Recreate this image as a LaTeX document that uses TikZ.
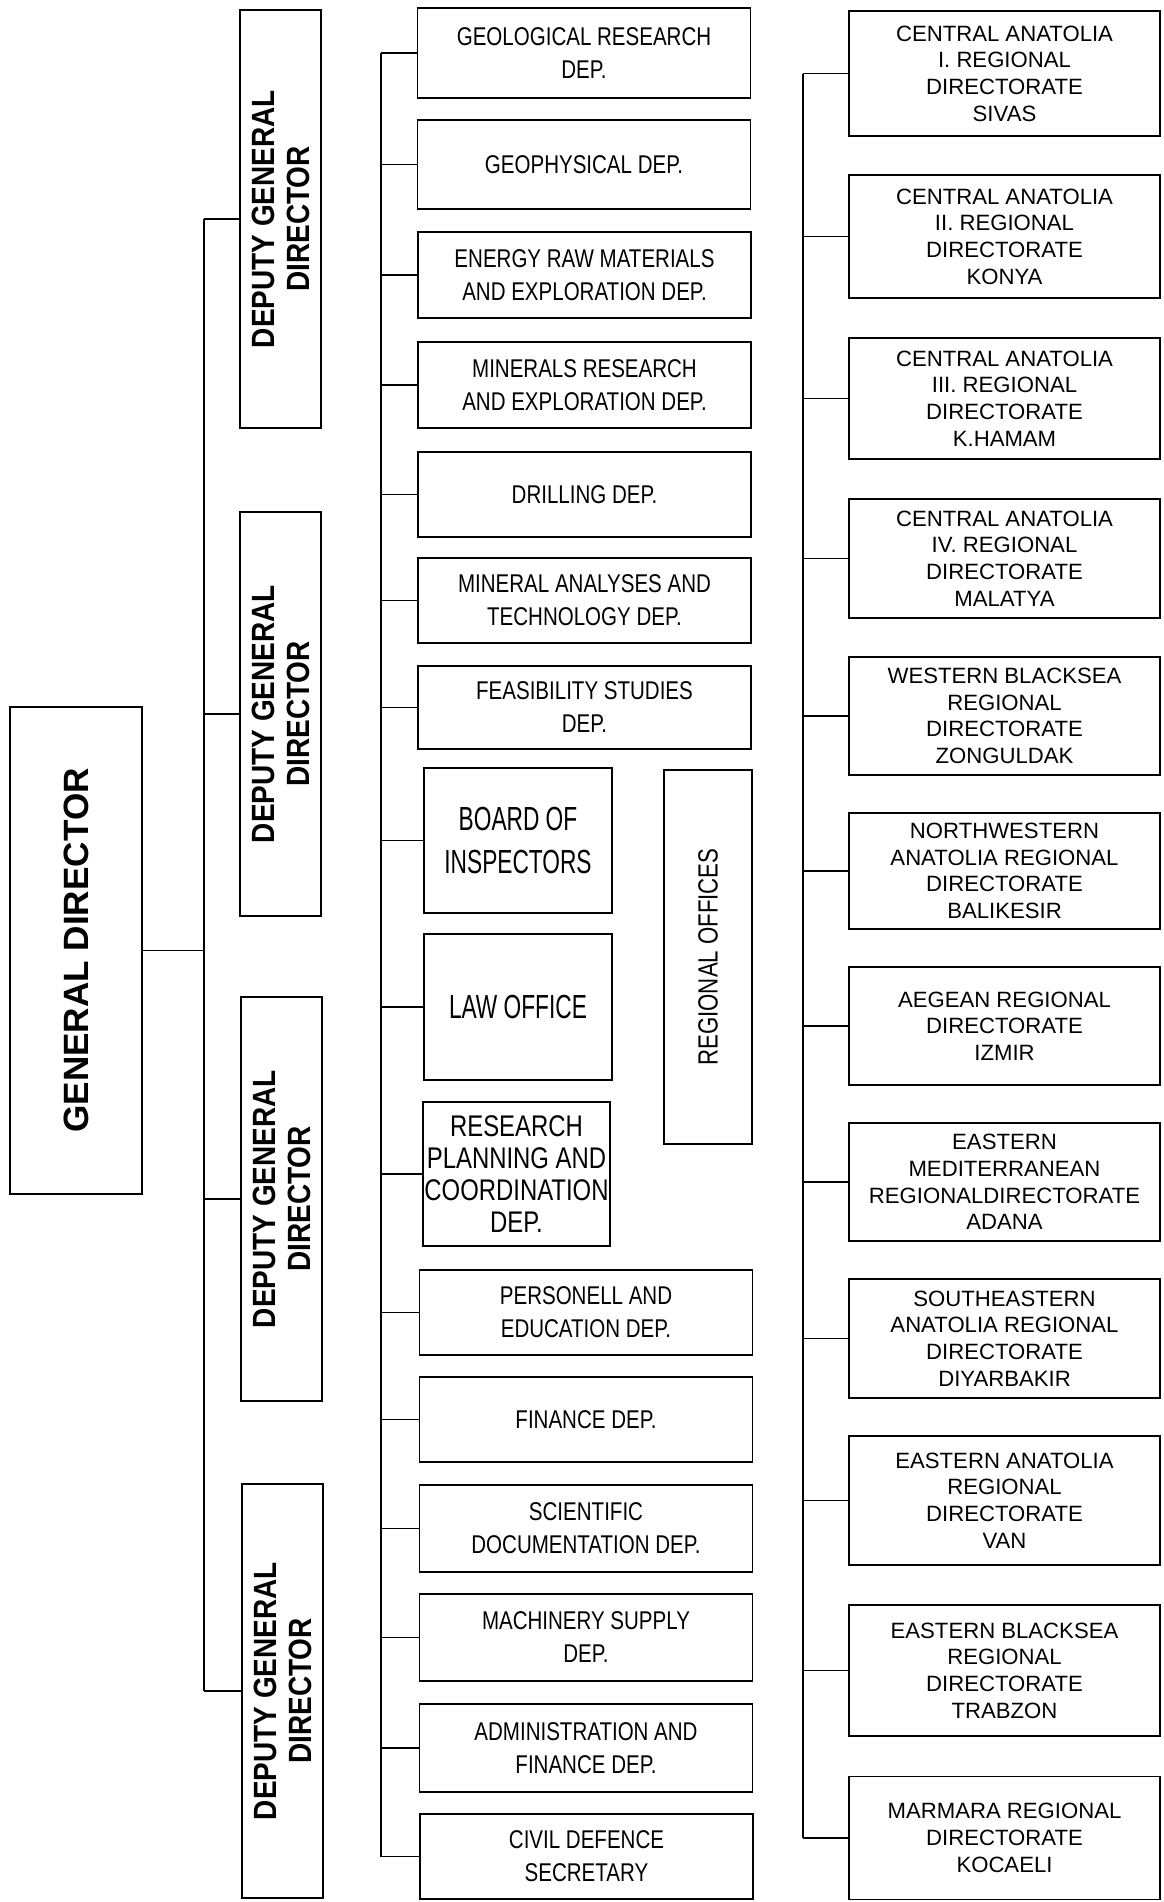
\documentclass[tikz,border=0pt]{standalone}
\usepackage{fontspec}
\setmainfont{Liberation Sans}
\newfontfamily\deptfont[FakeStretch=0.8]{Liberation Sans}
\newfontfamily\officefont[FakeStretch=0.68]{Liberation Sans}
\newfontfamily\headfont[FakeStretch=0.87]{Liberation Sans}
\usetikzlibrary{positioning,calc}

\tikzset{
  orgline/.style={line width=0.8pt, black},
  gdbox/.style={draw, line width=0.8pt, rotate=90, inner sep=0pt, minimum width=9.74cm, minimum height=2.64cm, font=\bfseries\fontsize{20}{24}\selectfont},
  dgdbox/.style={draw, line width=0.8pt, rotate=90, inner sep=0pt, minimum height=1.62cm, align=center, font=\headfont\bfseries\fontsize{18.3}{19.9}\selectfont},
  deptbox/.style={draw, line width=0.8pt, inner sep=0pt, minimum width=6.66cm, minimum height=1.72cm, align=center, font=\deptfont\fontsize{14.6}{18.8}\selectfont},
  officebox/.style={draw, line width=0.8pt, inner sep=0pt, minimum width=3.76cm, minimum height=2.9cm, align=center, font=\officefont\fontsize{19}{25}\selectfont},
  regbox/.style={draw, line width=0.8pt, inner sep=0pt, minimum width=6.22cm, minimum height=2.4cm, align=center, font=\fontsize{12.6}{15.2}\selectfont}
}

\begin{document}
\begin{tikzpicture}
  \useasboundingbox (0,0) rectangle (23.26,-38.04);

  %--- Bus lines ---
  \coordinate (gbus) at (4.08,0);
  \coordinate (dbus) at (7.62,0);
  \coordinate (rbus) at (16.06,0);

  %--- General director and deputies ---
  \node[gdbox] (gd) at (1.52,-19.01) {GENERAL DIRECTOR};

  \node[dgdbox, minimum width=8.36cm] (dgd1) at (5.61,-4.38) {DEPUTY GENERAL\\DIRECTOR};
  \node[dgdbox, minimum width=8.08cm] (dgd2) at (5.61,-14.28) {DEPUTY GENERAL\\DIRECTOR};
  \node[dgdbox, minimum width=8.08cm] (dgd3) at (5.63,-23.98) {DEPUTY GENERAL\\DIRECTOR};
  \node[dgdbox, minimum width=8.28cm] (dgd4) at (5.65,-33.82) {DEPUTY GENERAL\\DIRECTOR};

  \draw[orgline] (gd.south) -- (gd.south -| gbus);
  \draw[orgline] (dgd1.north -| gbus) -- (dgd4.north -| gbus);
  \foreach \k in {1,...,4}
    \draw[orgline] (dgd\k.north -| gbus) -- (dgd\k.north);

  %--- Departments ---
  \node[deptbox, minimum height=1.80cm] (d1) at (11.68,-1.06) {GEOLOGICAL RESEARCH\\DEP.};
  \node[deptbox, minimum height=1.78cm] (d2) at (11.68,-3.29) {GEOPHYSICAL DEP.};
  \node[deptbox] (d3) at (11.69,-5.50) {ENERGY RAW MATERIALS\\AND EXPLORATION DEP.};
  \node[deptbox] (d4) at (11.69,-7.70) {MINERALS RESEARCH\\AND EXPLORATION DEP.};
  \node[deptbox, minimum height=1.70cm] (d5) at (11.69,-9.89) {DRILLING DEP.};
  \node[deptbox, minimum height=1.70cm] (d6) at (11.69,-12.01) {MINERAL ANALYSES AND\\TECHNOLOGY DEP.};
  \node[deptbox, minimum height=1.66cm] (d7) at (11.69,-14.15) {FEASIBILITY STUDIES\\DEP.};
  \node[officebox] (d8) at (10.36,-16.81) {BOARD OF\\INSPECTORS};
  \node[officebox, minimum height=2.92cm] (d9) at (10.36,-20.14) {LAW OFFICE};
  \node[officebox, minimum width=3.74cm, minimum height=2.88cm, font=\deptfont\fontsize{17}{18.2}\selectfont] (d10) at (10.33,-23.48) {RESEARCH\\PLANNING AND\\COORDINATION\\DEP.};
  \node[deptbox, minimum height=1.70cm] (d11) at (11.72,-26.25) {PERSONELL AND\\EDUCATION DEP.};
  \node[deptbox, minimum height=1.70cm] (d12) at (11.72,-28.39) {FINANCE DEP.};
  \node[deptbox, minimum height=1.74cm] (d13) at (11.72,-30.57) {SCIENTIFIC\\DOCUMENTATION DEP.};
  \node[deptbox, minimum height=1.74cm] (d14) at (11.72,-32.75) {MACHINERY SUPPLY\\DEP.};
  \node[deptbox, minimum height=1.76cm] (d15) at (11.72,-34.96) {ADMINISTRATION AND\\FINANCE DEP.};
  \node[deptbox, minimum height=1.70cm] (d16) at (11.73,-37.13) {CIVIL DEFENCE\\SECRETARY};

  \draw[orgline] (dbus |- d1.west) -- (dbus |- d16.west);
  \foreach \k in {1,...,16}
    \draw[orgline] (dbus |- d\k.west) -- (d\k.west);

  % Regional offices (stand-alone)
  \node[draw, line width=0.8pt, rotate=90, inner sep=0pt, minimum width=7.48cm, minimum height=1.76cm, font=\deptfont\fontsize{15.8}{18}\selectfont] (regoff) at (14.16,-19.14) {REGIONAL OFFICES};

  %--- Regional directorates ---
  \node[regbox, minimum height=2.50cm] (r1) at (20.09,-1.47) {CENTRAL ANATOLIA\\I. REGIONAL\\DIRECTORATE\\SIVAS};
  \node[regbox, minimum height=2.46cm] (r2) at (20.09,-4.73) {CENTRAL ANATOLIA\\II. REGIONAL\\DIRECTORATE\\KONYA};
  \node[regbox, minimum height=2.42cm] (r3) at (20.09,-7.97) {CENTRAL ANATOLIA\\III. REGIONAL\\DIRECTORATE\\K.HAMAM};
  \node[regbox, minimum height=2.38cm] (r4) at (20.09,-11.17) {CENTRAL ANATOLIA\\IV. REGIONAL\\DIRECTORATE\\MALATYA};
  \node[regbox, minimum height=2.36cm] (r5) at (20.09,-14.32) {WESTERN BLACKSEA\\REGIONAL\\DIRECTORATE\\ZONGULDAK};
  \node[regbox, minimum height=2.32cm] (r6) at (20.09,-17.42) {NORTHWESTERN\\ANATOLIA REGIONAL\\DIRECTORATE\\BALIKESIR};
  \node[regbox, minimum height=2.36cm] (r7) at (20.09,-20.52) {AEGEAN REGIONAL\\DIRECTORATE\\IZMIR};
  \node[regbox, minimum height=2.36cm] (r8) at (20.09,-23.64) {EASTERN\\MEDITERRANEAN\\REGIONALDIRECTORATE\\ADANA};
  \node[regbox, minimum height=2.38cm] (r9) at (20.09,-26.77) {SOUTHEASTERN\\ANATOLIA REGIONAL\\DIRECTORATE\\DIYARBAKIR};
  \node[regbox, minimum height=2.58cm] (r10) at (20.09,-30.01) {EASTERN ANATOLIA\\REGIONAL\\DIRECTORATE\\VAN};
  \node[regbox, minimum height=2.62cm] (r11) at (20.09,-33.41) {EASTERN BLACKSEA\\REGIONAL\\DIRECTORATE\\TRABZON};
  \node[regbox, minimum height=2.46cm] (r12) at (20.09,-36.76) {MARMARA REGIONAL\\DIRECTORATE\\KOCAELI};

  \draw[orgline] (rbus |- r1.west) -- (rbus |- r12.west);
  \foreach \k in {1,...,12}
    \draw[orgline] (rbus |- r\k.west) -- (r\k.west);
\end{tikzpicture}
\end{document}
